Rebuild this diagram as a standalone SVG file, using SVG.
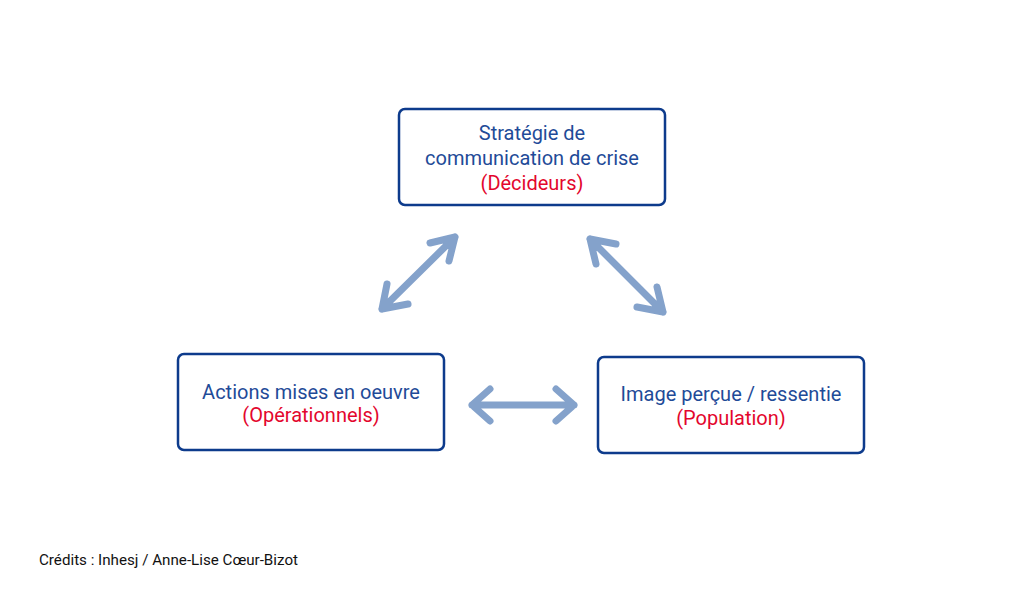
<svg xmlns="http://www.w3.org/2000/svg" width="1024" height="600" viewBox="0 0 1024 600">
<style>
.box{fill:#fff;stroke:#0d3b8c;stroke-width:2.5}
.t{font-family:Roboto,"DejaVu Sans",sans-serif;font-size:20px;text-anchor:middle;fill:#1f4b98}
.r{fill:#e3062d}
.arr{fill:none;stroke:#84a2cb;stroke-width:7;stroke-linecap:round;stroke-linejoin:round}
.credit{font-family:Roboto,"Liberation Sans",sans-serif;font-size:14px;fill:#111}
</style>
<rect width="1024" height="600" fill="#fff"/>
<g id="connectors">
<path class="arr" d="M382,309 L455,237 M430,243 L455,237 L449,261 M408,304 L382,309 L387,284"/>
<path class="arr" d="M590,239 L663,312 M616,244 L590,239 L596,264 M637,307 L663,312 L657,287"/>
<path class="arr" d="M472,405 L574,405 M490,389 L472,405 L490,421 M556,389 L574,405 L556,421"/>
</g>
<g id="strategie">
<rect class="box" x="399" y="109" width="266" height="96" rx="6"/>
<text class="t" x="532" y="140">Stratégie de</text>
<text class="t" x="532" y="165">communication de crise</text>
<text class="t r" x="532" y="190">(Décideurs)</text>
</g>
<g id="actions">
<rect class="box" x="178" y="354" width="266" height="96" rx="6"/>
<text class="t" x="311" y="399">Actions mises en oeuvre</text>
<text class="t r" x="311" y="422">(Opérationnels)</text>
</g>
<g id="image">
<rect class="box" x="598" y="357" width="266" height="96" rx="6"/>
<text class="t" x="731" y="401">Image perçue / ressentie</text>
<text class="t r" x="731" y="425">(Population)</text>
</g>
<text class="credit" x="39" y="565" textLength="259" lengthAdjust="spacingAndGlyphs">Crédits : Inhesj / Anne-Lise Cœur-Bizot</text>
</svg>
